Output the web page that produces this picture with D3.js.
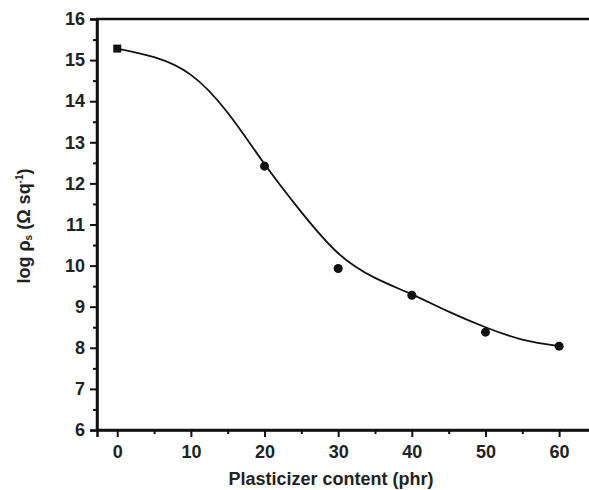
<!DOCTYPE html>
<html>
<head>
<meta charset="utf-8">
<script src="https://cdn.jsdelivr.net/npm/d3@7"></script>
<style>
  body { margin: 0; background: #fff; }
  text { font-family: "Liberation Sans", Arial, sans-serif; font-weight: bold; fill: #222; }
</style>
</head>
<body>
<div id="chart"></div>
<script>
// measured points
const content = [0, 20, 30, 40, 50, 60]
const logRho = [15.28, 12.42, 9.93, 9.28, 8.38, 8.04]
// fitted curve
const fitX = [0, 5, 10, 15, 20, 25, 30, 35, 40, 45, 50, 55, 60]
const fitY = [15.28, 15.07, 14.64, 13.72, 12.47, 11.3, 10.3, 9.7, 9.3, 8.88, 8.5, 8.2, 8.04]
const xTicks = [0, 10, 20, 30, 40, 50, 60]
const yTicks = [6, 7, 8, 9, 10, 11, 12, 13, 14, 15, 16]

width = 589
height = 490
margin = ({top: 19, right: -4, bottom: 60, left: 97})

svg = d3.select("#chart").append("svg")
  .attr("width", width)
  .attr("height", height)

x = d3.scaleLinear()
  .domain([-2.75, 64.6])
  .range([margin.left, width - margin.right])
y = d3.scaleLinear()
  .domain([6, 16])
  .range([height - margin.bottom, margin.top])

// frame
svg.append("rect")
  .attr("x", x.range()[0])
  .attr("y", y(16))
  .attr("width", x.range()[1] - x.range()[0])
  .attr("height", y(6) - y(16))
  .attr("fill", "none")
  .attr("stroke", "#111")
  .attr("stroke-width", 2.5)

// fitted curve
line = d3.line()
  .x((d, i) => x(fitX[i]))
  .y(d => y(d))
  .curve(d3.curveNatural)

svg.append("path")
  .datum(fitY)
  .attr("fill", "none")
  .attr("stroke", "#111")
  .attr("stroke-width", 1.8)
  .attr("d", line)

// markers: first one is a square
svg.append("g")
  .selectAll("path")
  .data(content)
  .enter().append("path")
  .attr("transform", (d, i) => `translate(${x(d)},${y(logRho[i])})`)
  .attr("d", (d, i) => d3.symbol(i == 0 ? d3.symbolSquare : d3.symbolCircle, 64)())
  .attr("fill", "#111")

// x axis
svg.append("g")
  .attr("transform", `translate(0,${y(6)})`)
  .call(d3.axisBottom(x).tickValues(xTicks).tickSize(7).tickPadding(8))
svg.append("g")
  .attr("transform", `translate(0,${y(6)})`)
  .call(d3.axisBottom(x).tickValues(xTicks.map(d => d + 5)).tickSize(4).tickFormat(""))
  .call(g => g.select(".domain").remove())

// y axis
svg.append("g")
  .attr("transform", `translate(${x.range()[0]},0)`)
  .call(d3.axisLeft(y).tickValues(yTicks).tickSize(7).tickPadding(5))
svg.append("g")
  .attr("transform", `translate(${x.range()[0]},0)`)
  .call(d3.axisLeft(y).tickValues(yTicks.slice(0, -1).map(d => d + 0.5)).tickSize(4).tickFormat(""))
  .call(g => g.select(".domain").remove())

svg.selectAll(".domain").attr("stroke", "#111").attr("stroke-width", 2.5)
svg.selectAll(".tick line").attr("stroke", "#111").attr("stroke-width", 2)
svg.selectAll(".tick text").attr("font-size", 18).attr("fill", "#222")

// axis titles
svg.append("text")
  .attr("x", 331)
  .attr("y", 485)
  .attr("text-anchor", "middle")
  .attr("font-size", 18)
  .text("Plasticizer content (phr)")

yTitle = svg.append("text")
  .attr("transform", "translate(30,226) rotate(-90)")
  .attr("text-anchor", "middle")
  .attr("font-size", 18)
yTitle.append("tspan").text("log ρ")
yTitle.append("tspan").attr("font-size", 10).attr("dy", 2).text("s")
yTitle.append("tspan").attr("dy", -2).text(" (Ω sq")
yTitle.append("tspan").attr("font-size", 10).attr("dy", -7).text("-1")
yTitle.append("tspan").attr("dy", 7).text(")")
</script>
</body>
</html>
